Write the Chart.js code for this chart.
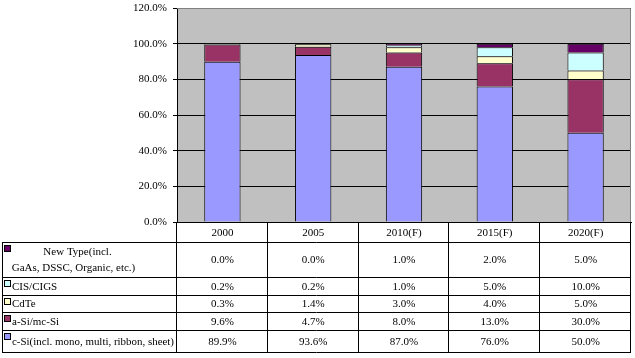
<!DOCTYPE html>
<html>
<head>
<meta charset="utf-8">
<script src="https://cdn.jsdelivr.net/npm/chart.js@4/dist/chart.umd.min.js"></script>
<style>
html,body{margin:0;padding:0;background:#fff;}
#wrap{position:relative;width:635px;height:358px;}
</style>
</head>
<body>
<div id="wrap"><canvas id="c" width="635" height="358"></canvas></div>
<script>
const categories = ['2000', '2005', '2010(F)', '2015(F)', '2020(F)'];
const cSi = [89.9, 93.6, 87.0, 76.0, 50.0];
const aSi = [9.6, 4.7, 8.0, 13.0, 30.0];
const cdTe = [0.3, 1.4, 3.0, 4.0, 5.0];
const cis = [0.2, 0.2, 1.0, 5.0, 10.0];
const newType = [0.0, 0.0, 1.0, 2.0, 5.0];
const seriesNames = ['c-Si(incl. mono, multi, ribbon, sheet)', 'a-Si/mc-Si', 'CdTe', 'CIS/CIGS', 'New Type(incl. GaAs, DSSC, Organic, etc.)'];
const yTicks = [0, 20, 40, 60, 80, 100, 120];

const colors = ['#9999FF', '#993366', '#FFFFCC', '#CCFFFF', '#660066'];
const seriesData = [cSi, aSi, cdTe, cis, newType];

const FONT = '"Liberation Serif", "DejaVu Serif", serif';

const tableOrder = [4, 3, 2, 1, 0];
const headerH = 20;
const rowH = [35, 18, 17, 18, 22];
const tableLeft = 2;

const bgPlugin = {
  id: 'bg',
  beforeDraw(chart) {
    const {ctx, chartArea: a} = chart;
    ctx.save();
    ctx.fillStyle = '#C0C0C0';
    ctx.fillRect(a.left, a.top, a.right - a.left, a.bottom - a.top);
    ctx.restore();
  },
  afterDatasetsDraw(chart) {
    const {ctx, chartArea: a} = chart;
    ctx.save();
    ctx.strokeStyle = '#808080';
    ctx.lineWidth = 1;
    ctx.beginPath();
    ctx.moveTo(a.left, a.top + 0.5);
    ctx.lineTo(a.right - 0.5, a.top + 0.5);
    ctx.lineTo(a.right - 0.5, a.bottom);
    ctx.stroke();
    ctx.restore();
  }
};

const tablePlugin = {
  id: 'dataTable',
  afterDraw(chart) {
    const {ctx, chartArea: a} = chart;
    const xs = chart.scales.x;
    const n = categories.length;
    const colW = (a.right - a.left) / n;
    const top = Math.round(a.bottom);
    ctx.save();
    ctx.strokeStyle = '#000';
    ctx.lineWidth = 1;
    ctx.fillStyle = '#000';
    ctx.font = '11px ' + FONT;
    ctx.textBaseline = 'middle';

    const ys = [top, top + headerH];
    rowH.forEach(h => ys.push(ys[ys.length - 1] + h));
    const bottom = ys[ys.length - 1];

    ctx.beginPath();
    for (let i = 1; i < ys.length; i++) {
      ctx.moveTo(tableLeft, ys[i] + 0.5);
      ctx.lineTo(Math.round(a.right), ys[i] + 0.5);
    }
    ctx.stroke();

    ctx.beginPath();
    for (let i = 0; i <= n; i++) {
      const x = Math.round(a.left + i * colW) - 0.5;
      ctx.moveTo(x, top);
      ctx.lineTo(x, bottom + 1);
    }
    ctx.moveTo(tableLeft + 0.5, ys[1]);
    ctx.lineTo(tableLeft + 0.5, bottom + 1);
    ctx.stroke();

    ctx.textAlign = 'center';
    categories.forEach((c, i) => {
      const cx = xs.getPixelForValue(i);
      ctx.fillText(c, cx, (ys[0] + ys[1]) / 2 + 1);
    });

    tableOrder.forEach((si, r) => {
      const y0 = ys[r + 1], y1 = ys[r + 2];
      const cy = (y0 + y1) / 2 + 1;
      ctx.fillStyle = colors[si];
      ctx.fillRect(tableLeft + 3, y0 + 4, 5, 5);
      ctx.strokeStyle = '#000';
      ctx.strokeRect(tableLeft + 2.5, y0 + 3.5, 6, 6);
      ctx.fillStyle = '#000';
      const label = seriesNames[si];
      if (si === 4) {
        ctx.textAlign = 'center';
        const mid = (tableLeft + a.left) / 2 - 16;
        ctx.fillText('New Type(incl.', mid + 4, y0 + 10);
        ctx.fillText('GaAs, DSSC, Organic, etc.)', mid, y0 + 26);
      } else {
        ctx.textAlign = 'left';
        ctx.fillText(label, tableLeft + 10, cy, a.left - tableLeft - 13);
      }
      ctx.textAlign = 'center';
      seriesData[si].forEach((v, i) => {
        ctx.fillText(v.toFixed(1) + '%', xs.getPixelForValue(i), cy);
      });
    });
    ctx.restore();
  }
};

new Chart(document.getElementById('c'), {
  type: 'bar',
  data: {
    labels: categories,
    datasets: seriesData.map((d, i) => ({
      label: seriesNames[i],
      data: d,
      backgroundColor: colors[i],
      borderColor: '#000',
      borderWidth: 1,
      categoryPercentage: 1.0,
      barPercentage: 0.4
    }))
  },
  options: {
    responsive: false,
    animation: false,
    devicePixelRatio: 1,
    layout: {padding: {top: 8, right: 4, left: 0, bottom: 0}},
    plugins: {legend: {display: false}, tooltip: {enabled: false}},
    scales: {
      x: {
        stacked: true,
        grid: {display: false, drawTicks: false},
        border: {display: true, color: '#000'},
        ticks: {display: false},
        afterFit(s) { s.height = 136; s.paddingLeft = 0; s.paddingRight = 0; }
      },
      y: {
        stacked: true,
        min: 0, max: 120,
        afterBuildTicks(s) { s.ticks = yTicks.map(v => ({value: v})); },
        grid: {color: '#000', lineWidth: 1, tickLength: 4, drawOnChartArea: true},
        border: {display: true, color: '#000'},
        ticks: {
          color: '#000',
          font: {family: FONT, size: 11},
          padding: 6,
          callback: v => v.toFixed(1) + '%'
        },
        afterFit(s) { s.width = 177; s.paddingTop = 0; s.paddingBottom = 0; }
      }
    }
  },
  plugins: [bgPlugin, tablePlugin]
});
</script>
</body>
</html>
